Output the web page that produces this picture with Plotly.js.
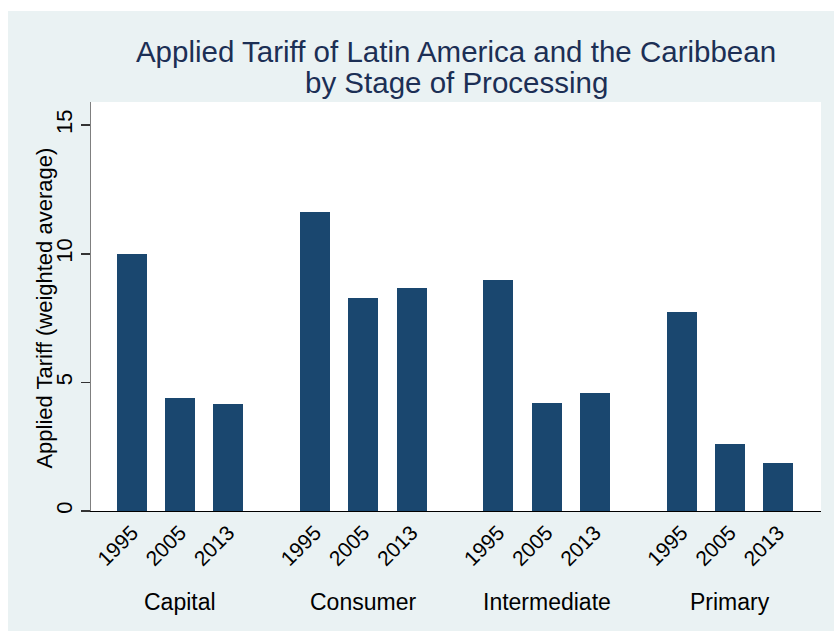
<!DOCTYPE html>
<html>
<head>
<meta charset="utf-8">
<script src="https://cdn.plot.ly/plotly-3.0.1.min.js"></script>
<style>
  html, body { margin: 0; padding: 0; background: #ffffff; }
  #chart { position: absolute; left: 8px; top: 11px; width: 826px; height: 620px; }
</style>
</head>
<body>
<div id="chart"></div>
<script>
// ---- data ----
const groups = ["Capital", "Consumer", "Intermediate", "Primary"];
const years = ["1995", "2005", "2013"];
const capital = [10.0, 4.40, 4.16];
const consumer = [11.64, 8.28, 8.68];
const intermediate = [8.97, 4.21, 4.57];
const primary = [7.74, 2.59, 1.88];
const yTicks = [0, 5, 10, 15];
const gridTicks = [5, 10];
const titleLine1 = "Applied Tariff of Latin America and the Caribbean";
const titleLine2 = "by Stage of Processing";
const yTitle = "Applied Tariff (weighted average)";

// ---- layout helpers ----
const seriesByGroup = [capital, consumer, intermediate, primary];
const groupStep = 3.8;
const xs = [], ys = [], tickText = [];
seriesByGroup.forEach((vals, g) => {
  vals.forEach((v, i) => {
    xs.push(g * groupStep + i);
    ys.push(v);
    tickText.push(years[i]);
  });
});
const groupCenters = groups.map((_, g) => g * groupStep + (years.length - 1) / 2);

const font = "Liberation Sans, Arial, Helvetica, sans-serif";
const titleColor = "#1c2f55";

const trace = {
  type: "bar",
  x: xs,
  y: ys,
  width: 0.62,
  yaxis: "y2",
  marker: { color: "#1a476f", line: { width: 0 } },
  hoverinfo: "x+y"
};

const annotations = groups.map((name, g) => ({
  text: name,
  x: groupCenters[g],
  xref: "x",
  y: -0.223,
  yref: "paper",
  xanchor: "center",
  yanchor: "middle",
  showarrow: false,
  font: { family: font, size: 23, color: "#000000" }
}));

annotations.push({
  text: titleLine2,
  x: 0.5, xref: "paper",
  y: 1.0465, yref: "paper",
  xanchor: "center", yanchor: "middle",
  showarrow: false,
  font: { family: font, size: 29.5, color: titleColor }
});

annotations.push({
  text: yTitle,
  textangle: -90,
  x: -0.063, xref: "paper",
  y: 0.495, yref: "paper",
  xanchor: "center", yanchor: "middle",
  showarrow: false,
  font: { family: font, size: 22, color: "#000000" }
});

const layout = {
  width: 826,
  height: 620,
  paper_bgcolor: "#eaf2f3",
  plot_bgcolor: "#ffffff",
  margin: { l: 83, r: 13, t: 91, b: 120 },
  showlegend: false,
  bargap: 0,
  title: {
    text: titleLine1,
    font: { family: font, size: 29.5, color: titleColor },
    x: 0.5, xref: "paper", xanchor: "center",
    y: 1 - 41 / 620, yanchor: "middle", yref: "container"
  },
  xaxis: {
    range: [-0.85, 3 * groupStep + 2 + 0.89],
    tickvals: xs,
    ticktext: tickText,
    tickangle: -45,
    ticks: "",
    tickfont: { family: font, size: 21, color: "#000000" },
    showline: true, linecolor: "#000000", linewidth: 1,
    showgrid: false, zeroline: false, fixedrange: true
  },
  yaxis: {
    range: [0, 15.9],
    tickvals: gridTicks,
    showticklabels: false,
    ticks: "",
    showgrid: true, gridcolor: "#eaf2f3", gridwidth: 1.5,
    showline: false, zeroline: false, fixedrange: true
  },
  yaxis2: {
    overlaying: "y",
    anchor: "x",
    side: "left",
    range: [0, 15.9],
    tickvals: yTicks,
    ticktext: yTicks.map(String),
    tickangle: -90,
    ticks: "outside", ticklen: 9, tickwidth: 1.5, tickcolor: "#333333",
    tickfont: { family: font, size: 22, color: "#000000" },
    showline: true, linecolor: "#7f7f7f", linewidth: 1.5,
    showgrid: false, zeroline: false, fixedrange: true
  },
  annotations: annotations
};

Plotly.newPlot("chart", [trace], layout, { displayModeBar: false, staticPlot: true });
</script>
</body>
</html>
